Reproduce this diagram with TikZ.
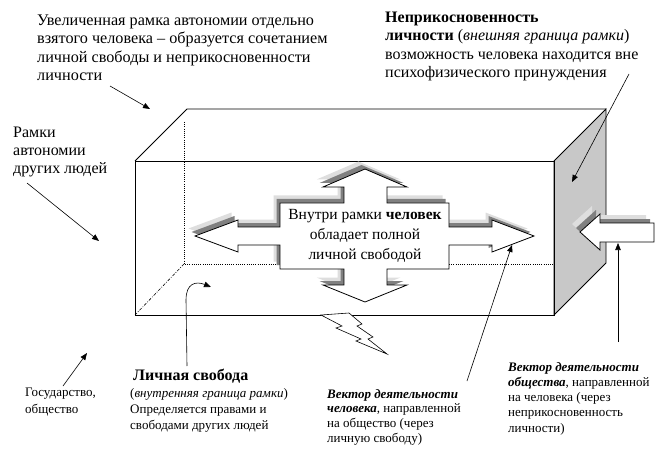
\documentclass[tikz,border=0pt]{standalone}
\usepackage{fontspec}
\setmainfont{Liberation Serif}
\usetikzlibrary{arrows.meta}
\definecolor{faceGrey}{RGB}{200,200,200}
\definecolor{shDarkC}{RGB}{128,128,128}
\definecolor{shLightC}{RGB}{222,222,222}
\begin{document}
\begin{tikzpicture}[x=1pt,y=-1pt,
  lbl/.style={inner sep=0pt, anchor=north west, align=left},
  edge/.style={line width=0.8pt},
  hidden/.style={line width=0.7pt, dash pattern=on 0.8pt off 1.4pt},
  hiddendiag/.style={line width=0.6pt, dash pattern=on 3pt off 1.5pt on 0.8pt off 1.5pt},
  conn/.style={line width=0.6pt, -{Triangle[length=7pt,width=5.5pt]}},
  shLight/.style={fill=shLightC},
  shDark/.style={fill=shDarkC},
  arrowBody/.style={fill=white, draw=black, line width=0.8pt},
  bolt/.style={fill=white, draw=black, line width=0.6pt}]
\useasboundingbox (0,0) rectangle (668,462);

% box: hidden edges
\draw[hidden] (184,122) -- (184,264) -- (554,264);
\draw[hiddendiag] (184,264) -- (135,315);
% side face
\filldraw[fill=faceGrey, edge] (554,161) -- (606,109) -- (606,263) -- (554,315) -- cycle;
% top face and front face
\draw[edge] (135,161) -- (187,109) -- (606,109);
\draw[edge] (135,161) rectangle (554,315);

% central four-way arrow with shadow
\foreach \dx/\dy/\st in {-6.5/-7.5/shLight, -3.5/-4/shDark, 0/0/arrowBody}{
  \path[\st, shift={(\dx,\dy)}]
    (365,169) -- (407,187) -- (387,187) -- (387,203) -- (449,203) -- (449,227)
    -- (492,227) -- (492,220) -- (534,236) -- (492,252) -- (492,245) -- (449,245)
    -- (449,269) -- (387,269) -- (387,285) -- (407,285) -- (365,302) -- (323,285)
    -- (344,285) -- (344,269) -- (280,269) -- (280,245) -- (238,245) -- (238,252)
    -- (195,236) -- (238,220) -- (238,227) -- (280,227) -- (280,203) -- (344,203)
    -- (344,187) -- (323,187) -- cycle;
}
\node[inner sep=0pt, anchor=north, align=center, font=\fontsize{15.5}{20}\selectfont] (ct) at (365,205)
  {\strut Внутри рамки \textbf{человек}\\обладает полной\\личной свободой};

% society arrow pointing into the box
\foreach \dx/\dy/\st in {-8/-8/shLight, -4/-4/shDark, 0/0/arrowBody}{
  \path[\st, shift={(\dx,\dy)}]
    (580,232) -- (600,214) -- (600,223) -- (654,223) -- (654,242) -- (600,242) -- (600,250) -- cycle;
}

% lightning
\path[bolt] (321,315) -- (349,313) -- (362,324) -- (357,326) -- (373,337) -- (368,339)
  -- (387,354) -- (356,341) -- (361,339) -- (336,328) -- (342,326) -- cycle;

% texts
\node[lbl, font=\fontsize{16.2}{18.5}\selectfont] (tl) at (37,12.05)
  {\strut Увеличенная рамка автономии отдельно\\взятого человека – образуется сочетанием\\личной свободы и неприкосновенности\\личности};
\node[lbl, font=\fontsize{16}{18.5}\selectfont] (tr) at (385,9.05)
  {\strut\textbf{Неприкосновенность}\\\textbf{личности} (\textit{внешняя граница рамки})\\возможность человека находится вне\\психофизического принуждения};
\node[lbl, font=\fontsize{16}{18}\selectfont] (lf) at (13,124.4)
  {\strut Рамки\\автономии\\других людей};
\node[lbl, font=\fontsize{13}{17.5}\selectfont] (gov) at (25,383.75)
  {\strut Государство,\\общество};
\node[inner sep=0pt, anchor=base west, font=\fontsize{16}{19}\selectfont\bfseries] (ls) at (133,380)
  {Личная свобода};
\node[lbl, font=\fontsize{13}{16}\selectfont] (lsd) at (130,385.8)
  {\strut(\textit{внутренняя граница рамки})\\Определяется правами и\\свободами других людей};
\node[lbl, font=\fontsize{13}{14.7}\selectfont] (vh) at (327,387.7)
  {\strut\textbf{\textit{Вектор деятельности}}\\\textbf{\textit{человека}}, направленной\\на общество (через\\личную свободу)};
\node[lbl, font=\fontsize{13}{15.2}\selectfont] (vs) at (508,360.4)
  {\strut\textbf{\textit{Вектор деятельности}}\\\textbf{\textit{общества}}, направленной\\на человека (через\\неприкосновенность\\личности)};

% connector end points
\coordinate (c1a) at (110,86);  \coordinate (c1b) at (150,109);
\coordinate (c2a) at (27,183);  \coordinate (c2b) at (99,241);
\coordinate (c3a) at (63,386);  \coordinate (c3b) at (87,353);
\coordinate (c4a) at (187,366); \coordinate (c4m) at (186,300); \coordinate (c4b) at (211,287);
\coordinate (c5a) at (629,74);  \coordinate (c5b) at (572,182);
\coordinate (c6a) at (467,381); \coordinate (c6b) at (512,245);
\coordinate (c7a) at (618,342); \coordinate (c7b) at (618,243);

\draw[conn] (c1a) -- (c1b);
\draw[conn] (c2a) -- (c2b);
\draw[conn] (c3a) -- (c3b);
\draw[conn] (c4a) -- (c4m) .. controls (186,283) and (196,281) .. (c4b);
\draw[conn] (c5a) -- (c5b);
\draw[conn] (c6a) -- (c6b);
\draw[conn] (c7a) -- (c7b);
\end{tikzpicture}
\end{document}
